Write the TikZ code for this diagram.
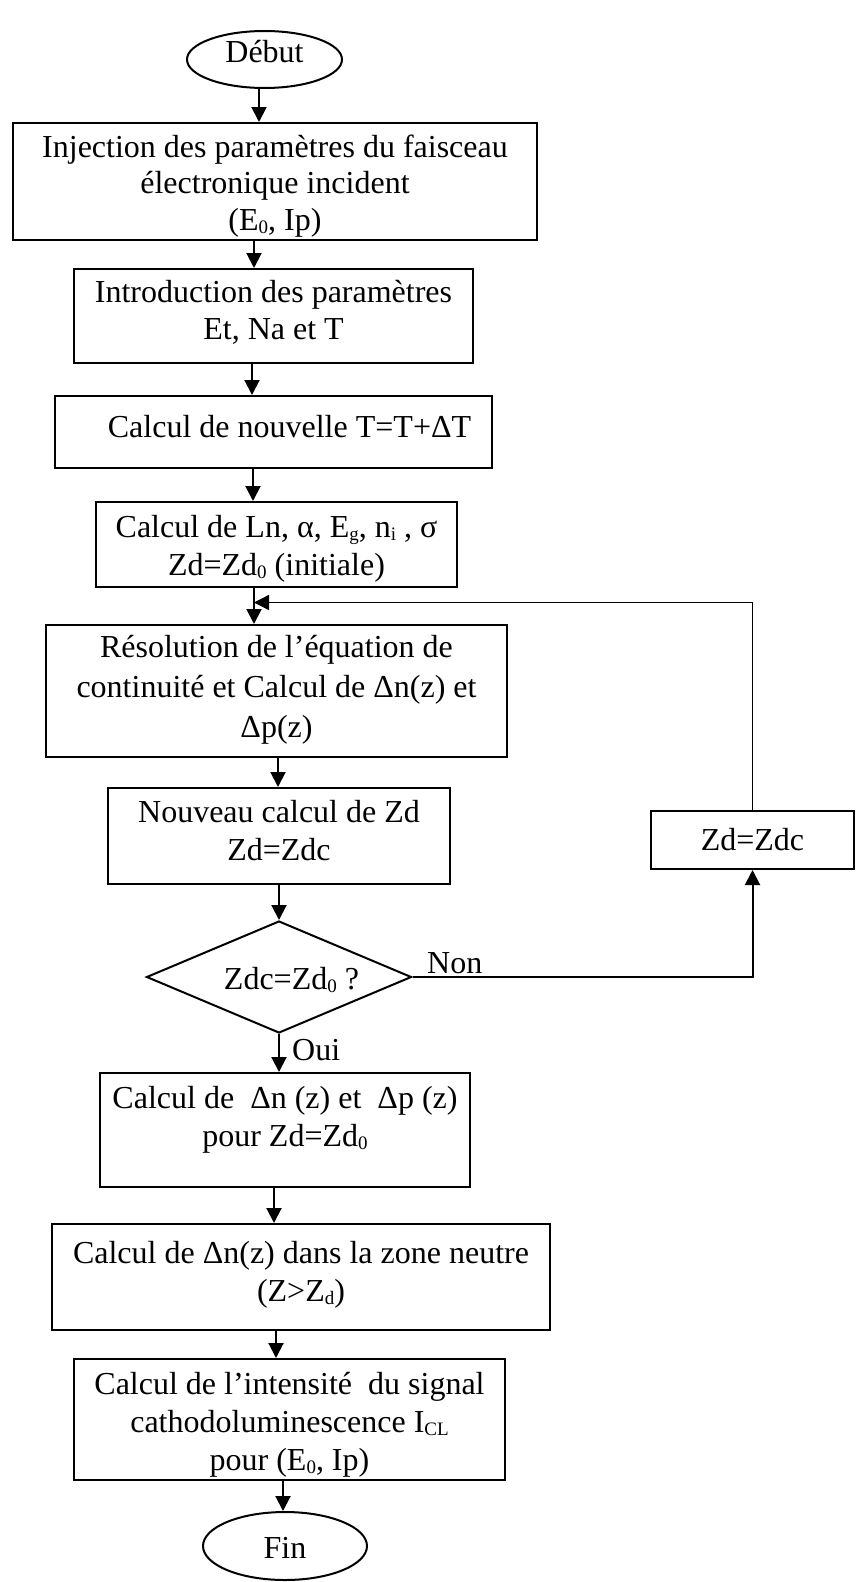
\documentclass[tikz,border=0pt]{standalone}
\usepackage{fontspec}
\setmainfont{Liberation Serif}
\usetikzlibrary{arrows.meta,shapes.geometric}
% invisible struts: extra height on a first line, extra depth on a last line
\newcommand\toph[1]{\rule{0pt}{#1pt}}
\newcommand\botd[1]{\rule[-#1pt]{0pt}{#1pt}}
% lowered subscript
\newcommand\sbs[1]{\raisebox{-3pt}{\fontsize{19}{19}\selectfont #1}}

\begin{document}
\begin{tikzpicture}[x=1pt,y=-1pt,
  every node/.style={font=\fontsize{32}{38}\selectfont, inner sep=0pt},
  stepbox/.style={draw, line width=2pt, rectangle, align=center},
  term/.style={draw, line width=2pt, ellipse},
  decision/.style={draw, line width=2pt, diamond, aspect=2.37},
  arr/.style={line width=2pt, -{Triangle[length=15pt,width=15pt]}},
  loopline/.style={line width=1.5pt, -{Triangle[length=15pt,width=15pt]}},
  lbl/.style={anchor=base west}]
\path[fill=white] (0,0) rectangle (856,1582);
\useasboundingbox (0,0) rectangle (856,1582);

% main column
\node[term, minimum width=155pt, minimum height=57pt] (debut) at (264.5,59.5)
  {\toph{22}\botd{17}Début};
\node[stepbox, minimum width=524pt, minimum height=115pt,
      font=\fontsize{32}{36.5}\selectfont] (inj) at (275,181.5)
  {\toph{34}Injection des paramètres du faisceau\\électronique incident\\(E\sbs{0}, Ip)\botd{10}};
\node[stepbox, minimum width=399pt, minimum height=94pt,
      font=\fontsize{32}{36.5}\selectfont] (intro) at (273.5,316)
  {\toph{24}Introduction des paramètres\\Et, Na et T\botd{14.5}};
\node[stepbox, minimum width=437pt, minimum height=72pt] (nouvT) at (273.5,432)
  {\hspace*{32pt}\toph{24}\botd{14}Calcul de nouvelle T=T+ΔT};
\node[stepbox, minimum width=361pt, minimum height=85pt] (params) at (276.5,544.5)
  {\toph{33}Calcul de Ln, α, E\sbs{g}, n\sbs{i} , σ\\Zd=Zd\sbs{0} (initiale)\botd{10}};
\node[stepbox, minimum width=461pt, minimum height=132pt,
      font=\fontsize{32}{40}\selectfont] (resol) at (276.5,691)
  {\toph{24}Résolution de l’équation de\\continuité et Calcul de Δn(z) et\\Δp(z)\botd{12}};
\node[stepbox, minimum width=342pt, minimum height=96pt] (nouvZd) at (279,836)
  {\toph{24}Nouveau calcul de Zd\\Zd=Zdc\botd{14}};
\node[decision, minimum width=265pt, minimum height=112pt] (cmp) at (279,977)
  {\hspace*{25pt}\toph{30}\botd{6}Zdc=Zd\sbs{0} ?};
\node[stepbox, minimum width=370pt, minimum height=114pt] (dnp) at (285,1130)
  {\toph{24}Calcul de\ \ Δn (z) et\ \ Δp (z)\\pour Zd=Zd\sbs{0}\botd{29}};
\node[stepbox, minimum width=498pt, minimum height=106pt] (neutre) at (301,1277)
  {\toph{24}Calcul de Δn(z) dans la zone neutre\\(Z>Z\sbs{d})\botd{13}};
\node[stepbox, minimum width=431pt, minimum height=115pt] (icl) at (289.5,1419.5)
  {\toph{35}Calcul de l’intensité\ \ du signal\\cathodoluminescence I\sbs{CL}\\pour (E\sbs{0}, Ip)\botd{10}};
\node[term, minimum width=164pt, minimum height=68pt] (fin) at (285,1546)
  {\toph{24}Fin};

% side box of the loop
\node[stepbox, minimum width=203pt, minimum height=58pt] (zdc) at (752.5,840)
  {\toph{30}\botd{10}Zd=Zdc};

% flow arrows
\draw[arr] (debut.south -| 259,0) -- (inj.north -| 259,0);
\draw[arr] (inj.south -| 254,0) -- (intro.north -| 254,0);
\draw[arr] (intro.south -| 252,0) -- (nouvT.north -| 252,0);
\draw[arr] (nouvT.south -| 253,0) -- (params.north -| 253,0);
\draw[arr] (params.south -| 254,0) -- (resol.north -| 254,0);
\draw[arr] (resol.south -| 278,0) -- (nouvZd.north -| 278,0);
\draw[arr] (nouvZd.south -| cmp.north) -- (cmp.north);
\draw[arr] (cmp.south) -- (dnp.north -| cmp.south);
\draw[arr] (dnp.south -| 274,0) -- (neutre.north -| 274,0);
\draw[arr] (neutre.south -| 276,0) -- (icl.north -| 276,0);
\draw[arr] (icl.south -| 283,0) -- (fin.north -| 283,0);

% iteration loop
\coordinate (join) at (254,602.5);
\draw[arr] (cmp.east) -| (zdc.south);
\draw[loopline] (zdc.north) |- (join);

\node[lbl] (non) at (427,973) {Non};
\node[lbl] (oui) at (292,1060) {Oui};
\end{tikzpicture}
\end{document}
